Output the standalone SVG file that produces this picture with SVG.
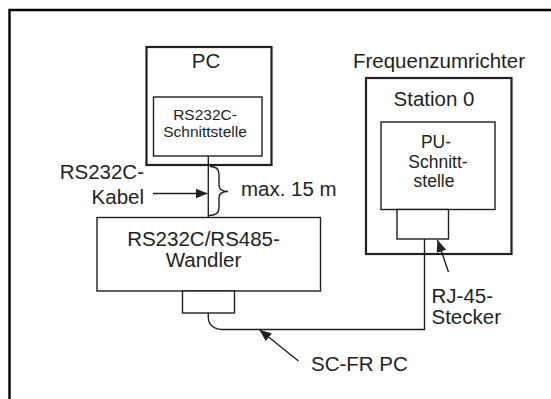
<svg xmlns="http://www.w3.org/2000/svg" width="551" height="399" viewBox="0 0 551 399">
<defs>
<style>
text{font-family:"Liberation Sans",Arial,Helvetica,sans-serif;fill:#231f20;}
.big{font-size:20.5px;}
.mid{font-size:17.5px;}
.small{font-size:15.5px;}
.thick{fill:#fff;stroke:#231f20;stroke-width:2.2;}
.thin{fill:#fff;stroke:#231f20;stroke-width:1.4;}
.line{fill:none;stroke:#231f20;stroke-width:1.4;}
</style>
<marker id="ah" viewBox="0 0 12 10" refX="12" refY="5" markerWidth="12" markerHeight="10" markerUnits="userSpaceOnUse" orient="auto">
<path d="M0,0 L12,5 L0,10 Z" fill="#231f20"/>
</marker>
</defs>
<rect width="551" height="399" fill="#fff"/>
<path d="M9.5,400 L9.5,10 L552,10" fill="none" stroke="#000" stroke-width="2.4"/>

<g id="pc">
<rect class="thick" x="146.5" y="47" width="125" height="118"/>
<text class="big" x="206" y="68" text-anchor="middle">PC</text>
</g>
<g id="rs232c-schnittstelle">
<rect class="thin" x="153.5" y="97" width="108.5" height="59"/>
<text class="small" x="205" y="120" text-anchor="middle">RS232C-</text>
<text class="small" x="205" y="136.5" text-anchor="middle">Schnittstelle</text>
</g>
<g id="wandler">
<rect class="thin" x="97" y="217.5" width="223.5" height="73.5"/>
<text class="big" x="203.5" y="245.5" text-anchor="middle">RS232C/RS485-</text>
<text class="big" x="203.5" y="266.5" text-anchor="middle">Wandler</text>
</g>
<g id="wandler-port">
<rect class="thin" x="182.5" y="291" width="52" height="22"/>
</g>
<g id="frequenzumrichter">
<text class="big" x="439" y="68" text-anchor="middle">Frequenzumrichter</text>
<rect class="thick" x="366" y="78" width="145.5" height="176"/>
<text class="big" x="434" y="106" text-anchor="middle">Station 0</text>
</g>
<g id="pu-schnittstelle">
<rect class="thin" x="381" y="122" width="114" height="87.5"/>
<text class="mid" x="436" y="148" text-anchor="middle">PU-</text>
<text class="mid" x="438" y="167.5" text-anchor="middle">Schnitt-</text>
<text class="mid" x="434" y="187" text-anchor="middle">stelle</text>
</g>
<g id="rj45">
<rect class="thin" x="397" y="209.5" width="51.5" height="29.5"/>
</g>

<g id="connectors">
<path class="line" d="M208.3,156 L208.3,217.5"/>
<path class="line" d="M210,166.5 C216,166.5 219,168.5 219,174 L219,185 C219,189 222,191.5 228,191.5 C222,191.5 219,194 219,198 L219,208 C219,213 216,215.5 209,215.5"/>
<path class="line" d="M153,193.5 L207.5,193.5" marker-end="url(#ah)"/>
<path class="line" d="M208.3,313 L208.3,317 C208.3,325 214,329.5 223,329.5 L424.5,329.5 L424.5,239"/>
<path class="line" d="M448.5,272 L437.5,240" marker-end="url(#ah)"/>
<path class="line" d="M298.5,361 L259.5,329.8" marker-end="url(#ah)"/>
</g>

<g id="labels">
<text class="big" x="144" y="178.5" text-anchor="end">RS232C-</text>
<text class="big" x="144" y="203.5" text-anchor="end">Kabel</text>
<text class="big" x="241" y="195.5">max. 15 m</text>
<text class="big" x="431.5" y="302.5">RJ-45-</text>
<text class="big" x="431.5" y="324">Stecker</text>
<text class="big" x="311" y="371">SC-FR PC</text>
</g>
</svg>
